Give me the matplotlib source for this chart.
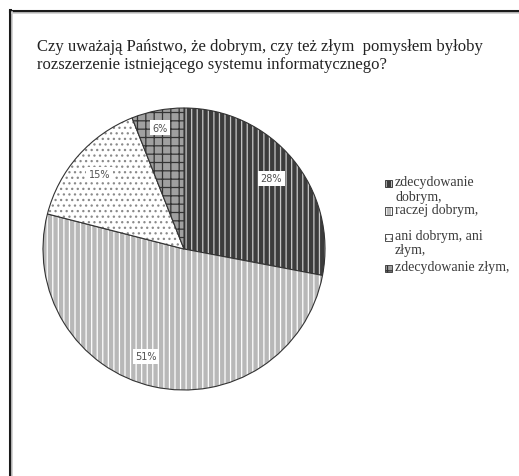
import matplotlib
matplotlib.use("Agg")
import matplotlib.pyplot as plt
from matplotlib.patches import Rectangle
from matplotlib.lines import Line2D

plt.rcParams['hatch.linewidth'] = 0.9

title = ("Czy uważają Państwo, że dobrym, czy też złym  pomysłem byłoby\n"
         "rozszerzenie istniejącego systemu informatycznego?")
categories = ["zdecydowanie\ndobrym,", "raczej dobrym,\n", "ani dobrym, ani\nzłym,",
              "zdecydowanie złym,"]
shares = [28, 51, 15, 6]
labels = ["28%", "51%", "15%", "6%"]

face_colors = ["#3c3c3c", "#b8b8b8", "#ffffff", "#a0a0a0"]
hatch_colors = ["#c8c8c8", "#ffffff", "#8a8a8a", "#333333"]
hatches = ["|||", "|||", "...", "++"]

fig = plt.figure(figsize=(5.19, 4.77), dpi=100)

# outer frame (left and top edges visible)
fig.add_artist(Line2D([9.5 / 519, 9.5 / 519], [0, 1 - 11 / 477], color="#1a1a1a", lw=2.2))
fig.add_artist(Line2D([9.5 / 519, 1], [1 - 11.5 / 477, 1 - 11.5 / 477], color="#1a1a1a", lw=2.2))
fig.add_artist(Line2D([12 / 519, 12 / 519], [0, 1 - 13 / 477], color="#cfcfcf", lw=1.2))
fig.add_artist(Line2D([12 / 519, 1], [1 - 13.5 / 477, 1 - 13.5 / 477], color="#cfcfcf", lw=1.2))

fig.text(37 / 519, 1 - 39 / 477, title, ha="left", va="top",
         family="Liberation Serif", fontsize=12, color="#222222", linespacing=1.2)

r_px = 141
cx, cy = 184, 250
ax = fig.add_axes([(cx - r_px) / 519, 1 - (cy + r_px) / 477, 2 * r_px / 519, 2 * r_px / 477])
wedges, texts = ax.pie(shares, startangle=90, counterclock=False, colors=face_colors,
                       wedgeprops=dict(edgecolor="#333333", linewidth=0.8))
for w, hc, h in zip(wedges, hatch_colors, hatches):
    w.set_hatch(h)
    w._hatch_color = matplotlib.colors.to_rgba(hc)
ax.set_aspect("auto")
ax.set_xlim(-1, 1)
ax.set_ylim(-1, 1)

label_pos = [(0.62, 0.50), (-0.27, -0.76), (-0.60, 0.53), (-0.17, 0.86)]
for (x, y), lab in zip(label_pos, labels):
    ax.text(x, y, lab, ha="center", va="center", family="DejaVu Sans", fontsize=7,
            color="#505050",
            bbox=dict(boxstyle="square,pad=0.25", facecolor="white", edgecolor="none"))

# legend
leg_y = [184, 212, 238, 269]
for y, name, fc, hc, h in zip(leg_y, categories, face_colors, hatch_colors, hatches):
    rect = Rectangle((385 / 519, 1 - (y + 3.5) / 477), 7 / 519, 7 / 477, transform=fig.transFigure,
                     facecolor=fc, edgecolor="#333333", lw=0.6, hatch=h)
    rect._hatch_color = matplotlib.colors.to_rgba(hc)
    fig.add_artist(rect)
    fig.text(395 / 519, 1 - (y - 8) / 477, name, ha="left", va="top",
             family="Liberation Serif", fontsize=10, color="#3a3a3a", linespacing=1.15)

fig.savefig("out.png", dpi=100)
